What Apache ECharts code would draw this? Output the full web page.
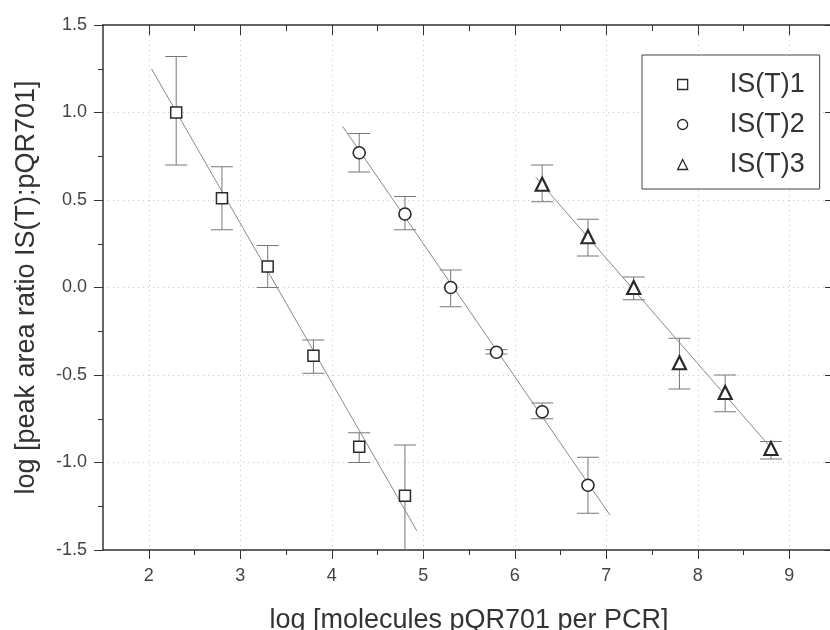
<!DOCTYPE html>
<html>
<head>
<meta charset="utf-8">
<title>IS(T) calibration</title>
<script src="https://cdn.jsdelivr.net/npm/echarts@6/dist/echarts.min.js"></script>
<style>
  html, body { margin: 0; padding: 0; background: #fff; }
  #chart { width: 830px; height: 630px; }
</style>
</head>
<body>
<div id="chart"></div>
<script>
// 数据
var xMajor = [2, 3, 4, 5, 6, 7, 8, 9];
var xMinor = [2.5, 3.5, 4.5, 5.5, 6.5, 7.5, 8.5];

var names = ["IS(T)1", "IS(T)2", "IS(T)3"];

var x1 = [2.3, 2.8, 3.3, 3.8, 4.3, 4.8];
var y1 = [1.0, 0.51, 0.12, -0.39, -0.91, -1.19];
var lo1 = [0.70, 0.33, 0.0, -0.49, -1.0, -1.55];
var hi1 = [1.32, 0.69, 0.24, -0.30, -0.83, -0.90];

var x2 = [4.3, 4.8, 5.3, 5.8, 6.3, 6.8];
var y2 = [0.77, 0.42, 0.0, -0.37, -0.71, -1.13];
var lo2 = [0.66, 0.33, -0.11, -0.38, -0.75, -1.29];
var hi2 = [0.88, 0.52, 0.10, -0.355, -0.66, -0.97];

var x3 = [6.3, 6.8, 7.3, 7.8, 8.3, 8.8];
var y3 = [0.59, 0.29, 0.0, -0.43, -0.60, -0.92];
var lo3 = [0.49, 0.18, -0.07, -0.58, -0.71, -0.98];
var hi3 = [0.70, 0.39, 0.06, -0.29, -0.50, -0.88];

// 拟合直线的两个端点
var fit1 = [[2.03, 1.25], [4.93, -1.39]];
var fit2 = [[4.12, 0.92], [7.04, -1.30]];
var fit3 = [[6.23, 0.63], [8.79, -0.91]];

var FONT = "Liberation Sans";

// 把 x / y 数组拼成 [x, y] 点
function zipPts(xs, ys) {
    var arr = [];
    for (var i = 0; i < xs.length; i++) {
        arr.push([xs[i], ys[i]]);
    }
    return arr;
}

// 误差线数据 [x, lo, hi]
function errPts(xs, lo, hi) {
    var arr = [];
    for (var i = 0; i < xs.length; i++) {
        arr.push([xs[i], lo[i], hi[i]]);
    }
    return arr;
}

function renderErr(params, api) {
    var x = api.value(0);
    var top = api.coord([x, api.value(2)]);
    var bot = api.coord([x, api.value(1)]);
    var half = 11;
    var style = { stroke: "#777", lineWidth: 1 };
    return {
        type: "group",
        children: [
            { type: "line", shape: { x1: top[0], y1: top[1], x2: bot[0], y2: bot[1] }, style: style },
            { type: "line", shape: { x1: top[0] - half, y1: top[1], x2: top[0] + half, y2: top[1] }, style: style },
            { type: "line", shape: { x1: bot[0] - half, y1: bot[1], x2: bot[0] + half, y2: bot[1] }, style: style }
        ]
    };
}

function errSeries(xs, lo, hi) {
    return {
        type: "custom",
        renderItem: renderErr,
        data: errPts(xs, lo, hi),
        encode: { x: 0, y: [1, 2] },
        clip: true,
        silent: true,
        z: 2
    };
}

function fitSeries(pts) {
    return {
        type: "line",
        data: pts,
        symbol: "none",
        lineStyle: { color: "#8a8a8a", width: 1 },
        silent: true,
        z: 3
    };
}

function markSeries(name, xs, ys, symbol, size, bw) {
    return {
        name: name,
        type: "scatter",
        data: zipPts(xs, ys),
        symbol: symbol,
        symbolSize: size,
        itemStyle: { color: "#fff", borderColor: "#2a2a2a", borderWidth: bw, opacity: 1 },
        z: 5
    };
}

var gridLine = { show: true, lineStyle: { color: "#c4c4c4", type: [1, 4], width: 1 } };
var axisLineStyle = { color: "#333", width: 1.5 };

var chart = echarts.init(document.getElementById("chart"));
chart.setOption({
    backgroundColor: "#fff",
    animation: false,
    grid: { left: 103, top: 25, width: 732, height: 525, outerBoundsMode: "none", containLabel: false },
    legend: {
        data: names,
        orient: "vertical",
        left: 642,
        top: 55,
        padding: [16, 15, 11, 35],
        itemGap: 13,
        itemWidth: 10,
        itemHeight: 10,
        borderColor: "#444",
        borderWidth: 1,
        backgroundColor: "#fff",
        itemStyle: { borderWidth: 1.3 },
        textStyle: { fontFamily: FONT, fontSize: 27, color: "#333", padding: [0, 0, 0, 37] }
    },
    xAxis: [
        {
            type: "value", position: "bottom", min: 1.5, max: 9.5,
            axisLine: { show: true, onZero: false, lineStyle: axisLineStyle },
            axisTick: { show: true, customValues: xMajor, length: 9, lineStyle: { color: "#333" } },
            axisLabel: { customValues: xMajor, fontFamily: FONT, fontSize: 18, color: "#444", margin: 17 },
            splitLine: gridLine,
            name: "log [molecules pQR701 per PCR]",
            nameLocation: "middle",
            nameGap: 57,
            nameTextStyle: { fontFamily: FONT, fontSize: 27, color: "#333" }
        },
        {
            type: "value", position: "bottom", min: 1.5, max: 9.5,
            axisLine: { show: false, onZero: false },
            axisTick: { show: true, customValues: xMinor, length: 5, lineStyle: { color: "#333" } },
            axisLabel: { show: false },
            splitLine: { show: false }
        },
        {
            type: "value", position: "top", min: 1.5, max: 9.5,
            axisLine: { show: true, onZero: false, lineStyle: axisLineStyle },
            axisTick: { show: true, inside: true, customValues: xMajor, length: 10, lineStyle: { color: "#333" } },
            axisLabel: { show: false },
            splitLine: { show: false }
        },
        {
            type: "value", position: "top", min: 1.5, max: 9.5,
            axisLine: { show: false, onZero: false },
            axisTick: { show: true, inside: true, customValues: xMinor, length: 6, lineStyle: { color: "#333" } },
            axisLabel: { show: false },
            splitLine: { show: false }
        }
    ],
    yAxis: [
        {
            type: "value", position: "left", min: -1.5, max: 1.5, interval: 0.5,
            axisLine: { show: true, onZero: false, lineStyle: axisLineStyle },
            axisTick: { show: true, length: 9, lineStyle: { color: "#333" } },
            minorTick: { show: true, splitNumber: 2, length: 5, lineStyle: { color: "#333" } },
            axisLabel: {
                fontFamily: FONT, fontSize: 18, color: "#444", margin: 16,
                formatter: function (v) { return v.toFixed(1); }
            },
            splitLine: gridLine,
            name: "log [peak area ratio IS(T):pQR701]",
            nameLocation: "middle",
            nameGap: 63,
            nameTextStyle: { fontFamily: FONT, fontSize: 27, color: "#333" }
        },
        {
            type: "value", position: "right", min: -1.5, max: 1.5, interval: 0.5,
            axisLine: { show: true, onZero: false, lineStyle: axisLineStyle },
            axisTick: { show: true, inside: true, length: 10, lineStyle: { color: "#333" } },
            minorTick: { show: true, splitNumber: 2, length: 5, lineStyle: { color: "#333" } },
            axisLabel: { show: false },
            splitLine: { show: false }
        }
    ],
    series: [
        errSeries(x1, lo1, hi1),
        errSeries(x2, lo2, hi2),
        errSeries(x3, lo3, hi3),
        fitSeries(fit1),
        fitSeries(fit2),
        fitSeries(fit3),
        markSeries(names[0], x1, y1, "rect", 11, 1.5),
        markSeries(names[1], x2, y2, "circle", 12, 1.6),
        markSeries(names[2], x3, y3, "triangle", 13, 2.2)
    ]
});
</script>
</body>
</html>
